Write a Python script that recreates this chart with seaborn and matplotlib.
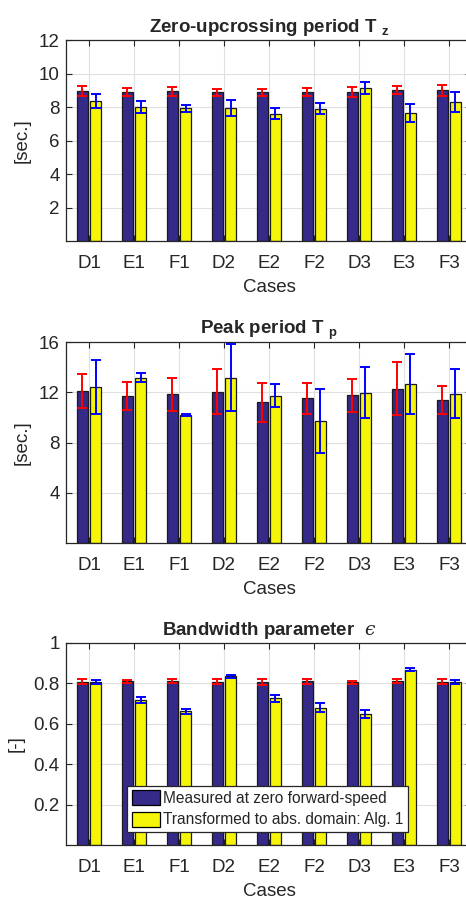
import numpy as np
import pandas as pd
import seaborn as sns
import matplotlib
matplotlib.use("Agg")
import matplotlib.pyplot as plt

# ---- data -----------------------------------------------------------------
cases = ["D1", "E1", "F1", "D2", "E2", "F2", "D3", "E3", "F3"]
series = ["Measured at zero forward-speed", "Transformed to abs. domain: Alg. 1"]

tz_measured = [8.98, 8.90, 8.94, 8.88, 8.88, 8.88, 8.90, 9.02, 9.00]
tz_measured_err = [0.30, 0.24, 0.26, 0.20, 0.22, 0.25, 0.29, 0.25, 0.32]
tz_transformed = [8.36, 7.99, 7.93, 7.93, 7.61, 7.89, 9.12, 7.65, 8.29]
tz_transformed_err = [0.44, 0.35, 0.22, 0.48, 0.32, 0.33, 0.35, 0.54, 0.58]

tp_measured = [12.09, 11.69, 11.83, 12.04, 11.19, 11.51, 11.75, 12.30, 11.38]
tp_measured_err = [1.35, 1.10, 1.31, 1.79, 1.57, 1.24, 1.34, 2.10, 1.11]
tp_transformed = [12.43, 13.17, 10.21, 13.17, 11.72, 9.74, 11.96, 12.67, 11.90]
tp_transformed_err = [2.14, 0.37, 0.10, 2.65, 0.90, 2.55, 2.04, 2.38, 1.97]

eps_measured = [0.809, 0.810, 0.810, 0.809, 0.807, 0.810, 0.806, 0.814, 0.809]
eps_measured_err = [0.014, 0.009, 0.010, 0.011, 0.013, 0.012, 0.008, 0.010, 0.012]
eps_transformed = [0.809, 0.717, 0.661, 0.834, 0.727, 0.680, 0.649, 0.868, 0.807]
eps_transformed_err = [0.010, 0.016, 0.011, 0.008, 0.017, 0.023, 0.018, 0.006, 0.010]

titles = [
    r"Zero-upcrossing period T $_{\mathbf{z}}$",
    r"Peak period T $_{\mathbf{p}}$",
    "Bandwidth parameter  $\u03f5$",
]
ylabels = ["[sec.]", "[sec.]", "[-]"]
yticks = [[2, 4, 6, 8, 10, 12], [4, 8, 12, 16], [0.2, 0.4, 0.6, 0.8, 1.0]]
yticklabels = [["2", "4", "6", "8", "10", "12"], ["4", "8", "12", "16"],
               ["0.2", "0.4", "0.6", "0.8", "1"]]
ylims = [(0, 12), (0, 16), (0, 1)]

# ---- style ----------------------------------------------------------------
sns.set_style("ticks")
plt.rcParams["font.family"] = ["Liberation Sans", "DejaVu Sans"]
plt.rcParams["mathtext.fontset"] = "custom"
plt.rcParams["mathtext.rm"] = "Liberation Sans"
plt.rcParams["mathtext.bf"] = "Liberation Sans:bold"
plt.rcParams["mathtext.it"] = "DejaVu Serif:italic"

dark = "#352A87"
yellow = "#F5F50A"
axis_col = "#262626"
fs = 13.5

fig = plt.figure(figsize=(4.66, 9.02), dpi=100)
positions = [
    [0.1427, 0.7328, 0.869, 0.2228],
    [0.1427, 0.3980, 0.869, 0.2228],
    [0.1427, 0.0632, 0.869, 0.2240],
]

panels = [
    (tz_measured, tz_measured_err, tz_transformed, tz_transformed_err),
    (tp_measured, tp_measured_err, tp_transformed, tp_transformed_err),
    (eps_measured, eps_measured_err, eps_transformed, eps_transformed_err),
]

for i, (m, me, t, te) in enumerate(panels):
    ax = fig.add_axes(positions[i])
    df = pd.DataFrame({
        "Cases": cases * 2,
        "value": list(m) + list(t),
        "series": [series[0]] * len(cases) + [series[1]] * len(cases),
    })
    sns.barplot(data=df, x="Cases", y="value", hue="series",
                palette=[dark, yellow], width=0.58, gap=0.2,
                edgecolor="#1a1a1a", linewidth=0.9, errorbar=None,
                saturation=1, ax=ax, legend=(i == 2), zorder=2)

    # error bars centred on each bar
    for cont, vals, errs, col in zip(ax.containers, [m, t], [me, te],
                                     ["#FF0000", "#0000FF"]):
        xs = [p.get_x() + p.get_width() / 2 for p in cont.patches]
        ax.errorbar(xs, vals, yerr=errs, fmt="none", ecolor=col,
                    elinewidth=1.4, capsize=3.5, capthick=1.4, zorder=3)

    ax.set_xlim(-0.5, 8.5)
    ax.set_ylim(*ylims[i])
    ax.set_yticks(yticks[i])
    ax.set_yticklabels(yticklabels[i])
    ax.grid(True, color="#e0e0e0", linewidth=0.8, zorder=0)
    ax.set_axisbelow(True)
    ax.tick_params(axis="both", direction="in", length=4, width=0.8,
                   colors=axis_col, labelsize=fs, top=True, right=True)
    ax.tick_params(axis="x", pad=10)
    ax.tick_params(axis="y", pad=5)
    for s in ax.spines.values():
        s.set_color(axis_col)
        s.set_linewidth(0.9)
    ax.set_xlabel("Cases", fontsize=fs, color=axis_col, labelpad=5)
    ax.set_ylabel(ylabels[i], fontsize=fs, color=axis_col, labelpad=6)
    ax.set_title(titles[i], fontsize=fs, fontweight="bold", pad=6)

    if i == 2:
        leg = ax.legend(loc="lower left", bbox_to_anchor=(0.149, 0.064),
                        borderaxespad=0, fontsize=11.2, frameon=True,
                        fancybox=False, edgecolor=axis_col, framealpha=1,
                        handlelength=1.8, handleheight=1.1,
                        handletextpad=0.2, borderpad=0.3, labelspacing=0.35)
        leg.get_frame().set_linewidth(0.9)
        for h in leg.legend_handles:
            h.set_edgecolor("black")

fig.savefig("out.png", dpi=100)
